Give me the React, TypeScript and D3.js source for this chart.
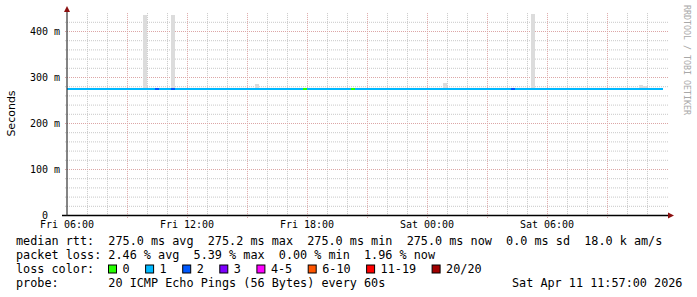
import React from 'react';
import * as d3 from 'd3';

const W = 697;
const H = 297;

// time frame
const startTime = new Date(2026, 3, 10, 6, 0, 0); // Fri 06:00
const endTime = new Date(2026, 3, 11, 12, 0, 0); // Sat 12:00
const stepMinutes = 12;
const stepCount = 149;

// median rtt (ms) and loss count per step
const medianRtt = 275.0;
const defaultLoss = 1;
const lossStepIdx = [22, 26, 59, 71, 111];
const lossStepVal = [2, 2, 0, 0, 2];

// smoke (max rtt above median) per step
const smokeIdx = [9, 12, 13, 19, 26, 47, 54, 69, 94, 96, 98, 115, 116, 125, 143, 144];
const smokeTop = [278, 278, 278, 436, 436, 285, 278, 278, 289, 278, 278, 278, 437, 278, 283, 281];
const smokeBottom = 274;

// axes
const yTicks = [0, 100, 200, 300, 400];
const yTickLabels = ['0', '100 m', '200 m', '300 m', '400 m'];
const xTickHours = [0, 6, 12, 18, 24];
const xTickLabels = ['Fri 06:00', 'Fri 12:00', 'Fri 18:00', 'Sat 00:00', 'Sat 06:00'];

// legend
const lossLabels = ['0', '1', '2', '3', '4-5', '6-10', '11-19', '20/20'];
const lossColors = ['#26ff00', '#00b8ff', '#0059ff', '#7e00ff', '#ff00ff', '#ff5500', '#ff0000', '#a10000'];
const lossBucket = (n: number) => (n <= 0 ? 0 : n === 1 ? 1 : n === 2 ? 2 : n === 3 ? 3 : n <= 5 ? 4 : n <= 10 ? 5 : n <= 19 ? 6 : 7);

const legendRtt = 'median rtt:  275.0 ms avg  275.2 ms max  275.0 ms min  275.0 ms now  0.0 ms sd  18.0 k am/s';
const legendLoss = 'packet loss: 2.46 % avg  5.39 % max  0.00 % min  1.96 % now';
const legendLossColor = 'loss color:';
const legendProbe = 'probe:       20 ICMP Echo Pings (56 Bytes) every 60s';
const legendDate = 'Sat Apr 11 11:57:00 2026';
const watermark = 'RRDTOOL / TOBI OETIKER';
const yAxisTitle = 'Seconds';

const MONO = '"DejaVu Sans Mono", monospace';
const SANS = '"DejaVu Sans", sans-serif';

export default function App() {
  const x = d3.scaleTime().domain([startTime, endTime]).range([67, 667]);
  const y = d3.scaleLinear().domain([0, 440]).range([215.5, 215.5 - 0.46 * 440]);

  const stepMs = stepMinutes * 60 * 1000;
  const steps = d3.range(stepCount).map((i) => {
    const t0 = new Date(startTime.getTime() + i * stepMs);
    const t1 = new Date(t0.getTime() + stepMs);
    const k = lossStepIdx.indexOf(i);
    const loss = k >= 0 ? lossStepVal[k] : defaultLoss;
    return { i, t0, t1, loss };
  });

  const hourTicks = d3.range(1, 30).map((h) => new Date(startTime.getTime() + h * 3600 * 1000));
  const minorY = d3.range(20, 440, 20).filter((v) => v % 100 !== 0);
  const majorY = [100, 200, 300, 400];

  const charW = 7.1;
  const boxStart = 108.5;
  const boxes: { x: number; label: string; color: string }[] = [];
  let bx = boxStart;
  lossLabels.forEach((l, i) => {
    boxes.push({ x: bx, label: l, color: lossColors[i] });
    bx += 30 + charW * l.length;
  });

  const x0 = 67;
  const x1 = 668;

  return (
    <svg
      width={W}
      height={H}
      style={{ position: 'absolute', left: 0, top: 0, background: '#fff' }}
      xmlns="http://www.w3.org/2000/svg"
    >
      <rect x={0} y={0} width={W} height={H} fill="#fff" />

      {/* minor horizontal grid */}
      {minorY.map((v) => (
        <line key={'mh' + v} x1={65} x2={x1} y1={y(v)} y2={y(v)} stroke="#c8c8c8" strokeWidth={1} strokeDasharray="1,1" />
      ))}
      {/* minor vertical grid */}
      {hourTicks.map((t, i) =>
        (i + 1) % 3 !== 0 ? (
          <line key={'mv' + i} x1={Math.round(x(t)) + 0.5} x2={Math.round(x(t)) + 0.5} y1={y(440)} y2={217} stroke="#c8c8c8" strokeWidth={1} strokeDasharray="1,1" />
        ) : null
      )}
      {/* major horizontal grid */}
      {majorY.map((v) => (
        <line key={'Mh' + v} x1={65} x2={x1} y1={y(v)} y2={y(v)} stroke="#dca6a6" strokeWidth={1} strokeDasharray="1,1" />
      ))}
      {/* major vertical grid */}
      {hourTicks.map((t, i) =>
        (i + 1) % 3 === 0 ? (
          <line key={'Mv' + i} x1={Math.round(x(t)) + 0.5} x2={Math.round(x(t)) + 0.5} y1={y(440)} y2={218} stroke="#dca6a6" strokeWidth={1} strokeDasharray="1,1" />
        ) : null
      )}

      {/* smoke */}
      {smokeIdx.map((idx, k) => {
        const t0 = new Date(startTime.getTime() + idx * stepMs);
        const t1 = new Date(t0.getTime() + stepMs);
        return (
          <rect
            key={'s' + idx}
            x={x(t0)}
            width={x(t1) - x(t0)}
            y={y(smokeTop[k])}
            height={y(smokeBottom) - y(smokeTop[k])}
            fill="#dcdcdc"
            shapeRendering="crispEdges"
          />
        );
      })}

      {/* median line colored by loss */}
      {steps.map((s) => (
        <rect
          key={'m' + s.i}
          x={x(s.t0)}
          width={x(s.t1) - x(s.t0)}
          y={y(medianRtt) - 1}
          height={2}
          fill={lossColors[lossBucket(s.loss)]}
          shapeRendering="crispEdges"
        />
      ))}

      {/* axes */}
      <line x1={62} x2={669} y1={215.5} y2={215.5} stroke="#000" strokeWidth={1.3} />
      <line x1={x0} x2={x0} y1={215.5} y2={11} stroke="#333" strokeWidth={1.2} />
      <path d={`M${x0 - 3},${12} L${x0 + 3},${12} L${x0},${6} Z`} fill="#8b1010" />
      <path d={`M${668},${212.5} L${668},${218.5} L${674},${215.5} Z`} fill="#8b1010" />

      {/* y tick labels */}
      {yTicks.map((v, i) => (
        <text key={'yl' + v} x={45} y={y(v) + 3} textAnchor="middle" fontFamily={MONO} fontSize={10} fill="#000">
          {yTickLabels[i]}
        </text>
      ))}
      {/* x tick labels */}
      {xTickHours.map((h, i) => (
        <text
          key={'xl' + h}
          x={x(new Date(startTime.getTime() + h * 3600 * 1000))}
          y={228}
          textAnchor="middle"
          fontFamily={MONO}
          fontSize={10}
          fill="#000"
        >
          {xTickLabels[i]}
        </text>
      ))}

      {/* y axis title */}
      <text transform="translate(14.5,113.5) rotate(-90)" textAnchor="middle" fontFamily={SANS} fontSize={11} fill="#000">
        {yAxisTitle}
      </text>

      {/* watermark */}
      <text transform="translate(684,60) rotate(90)" textAnchor="middle" fontFamily={MONO} fontSize={8.3} fill="#a8a8a8">
        {watermark}
      </text>

      {/* legend */}
      <g fontFamily={MONO} fontSize={11.8} fill="#000" style={{ whiteSpace: 'pre' }}>
        <text x={16} y={245} xmlSpace="preserve">{legendRtt}</text>
        <text x={16} y={259} xmlSpace="preserve">{legendLoss}</text>
        <text x={16} y={273} xmlSpace="preserve">{legendLossColor}</text>
        {boxes.map((b) => (
          <g key={'b' + b.label}>
            <rect x={b.x} y={265} width={8} height={8} fill={b.color} stroke="#000" strokeWidth={1} />
            <text x={b.x + 14} y={273}>{b.label}</text>
          </g>
        ))}
        <text x={16} y={287} xmlSpace="preserve">{legendProbe}</text>
        <text x={512} y={287}>{legendDate}</text>
      </g>
    </svg>
  );
}
